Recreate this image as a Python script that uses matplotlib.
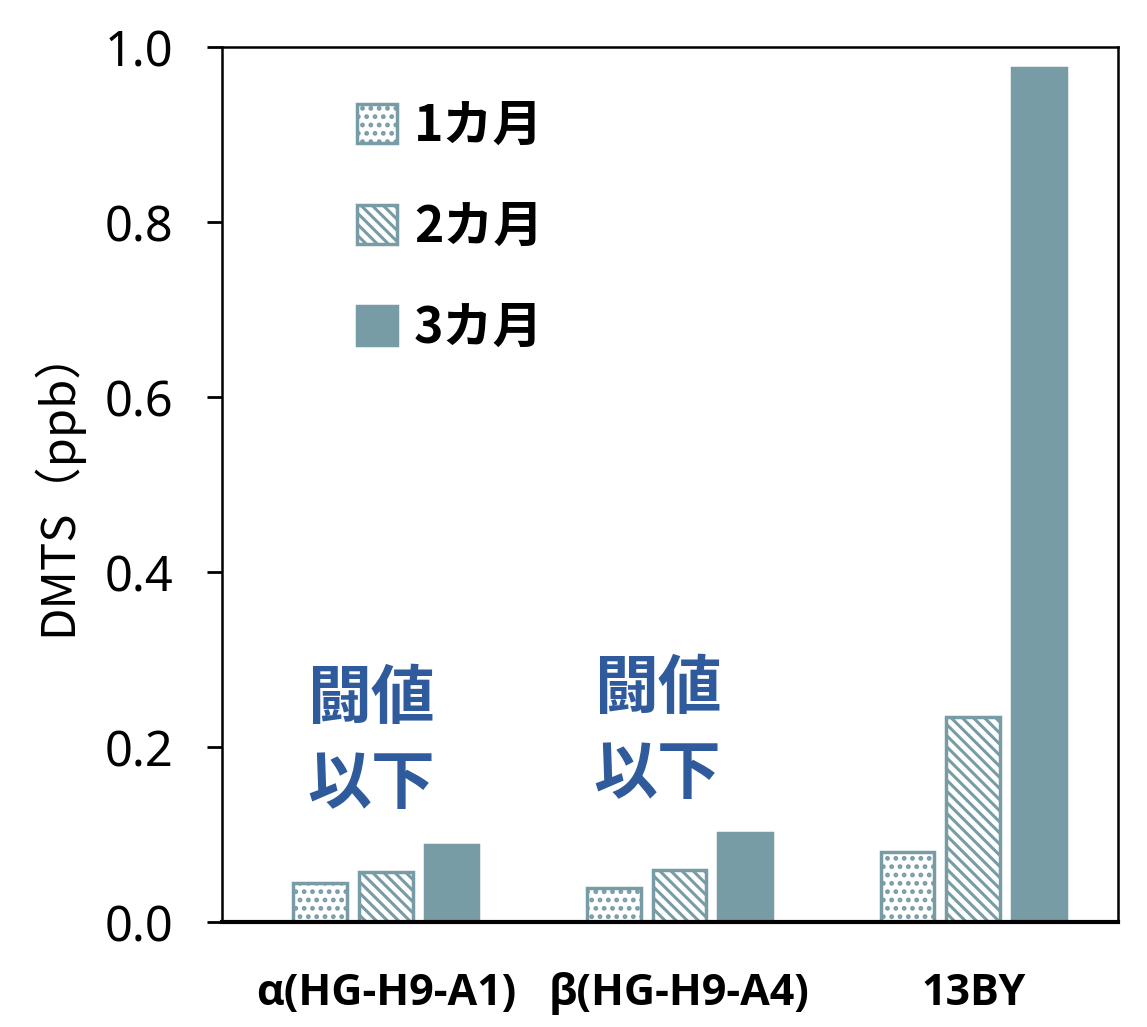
import matplotlib
matplotlib.use("Agg")
import matplotlib.pyplot as plt
import numpy as np

categories = ["α(HG-H9-A1)", "β(HG-H9-A4)", "13BY"]
series_names = ["1カ月", "2カ月", "3カ月"]
val_1m = [0.045, 0.039, 0.080]
val_2m = [0.057, 0.059, 0.234]
val_3m = [0.088, 0.102, 0.976]
yticks = [0.0, 0.2, 0.4, 0.6, 0.8, 1.0]
note_text = "闘値\n以下"

plt.rcParams['hatch.linewidth'] = 2.2
color = "#789CA5"
blue = "#2F5B9C"
cjk = ["Noto Sans CJK JP", "DejaVu Sans"]

fig = plt.figure(figsize=(11.47, 10.27), dpi=100)
ax = fig.add_axes([0.1935, 0.1022, 0.9747 - 0.1935, 0.9542 - 0.1022])

x = np.arange(len(categories))
w = 0.183
step = 0.224
styles = [dict(facecolor="white", edgecolor=color, hatch=".."),
          dict(facecolor="white", edgecolor=color, hatch="\\\\\\"),
          dict(facecolor=color, edgecolor=color, hatch=None)]
for i, (vals, name) in enumerate(zip([val_1m, val_2m, val_3m], series_names)):
    ax.bar(x + (i - 1) * step, vals, width=w, label=name, linewidth=2.5, **styles[i])

ax.set_xlim(-0.558, 2.493)
ax.set_ylim(0, 1.0)
ax.set_yticks(yticks)
ax.set_yticklabels([f"{t:.1f}" for t in yticks], fontsize=35, family=["Noto Sans", "DejaVu Sans"])
ax.set_xticks(x)
ax.set_xticklabels(categories, fontsize=31, fontweight="bold", family=["Open Sans", "DejaVu Sans"])
ax.tick_params(axis="x", length=0, pad=36)
ax.tick_params(axis="y", direction="out", length=11, width=2, pad=24)
for s in ["left", "top", "right"]:
    ax.spines[s].set_linewidth(1.8)
ax.spines["bottom"].set_linewidth(3.0)

ax.set_ylabel("DMTS（ppb）", fontsize=34, family=cjk)
ax.yaxis.set_label_coords(-0.156, 0.504)

leg = ax.legend(loc="upper left", bbox_to_anchor=(0.1, 0.99), frameon=False,
                prop={"family": cjk, "weight": "bold", "size": 36},
                handlelength=0.8, handleheight=0.8, labelspacing=1.0, handletextpad=0.35)

ax.text(-0.05, 0.206, note_text, ha="center", va="center", fontsize=46, fontweight="bold",
        color=blue, family=cjk, linespacing=1.38)
ax.text(0.925, 0.218, note_text, ha="center", va="center", fontsize=46, fontweight="bold",
        color=blue, family=cjk, linespacing=1.38)

fig.savefig("out.png", dpi=100)
